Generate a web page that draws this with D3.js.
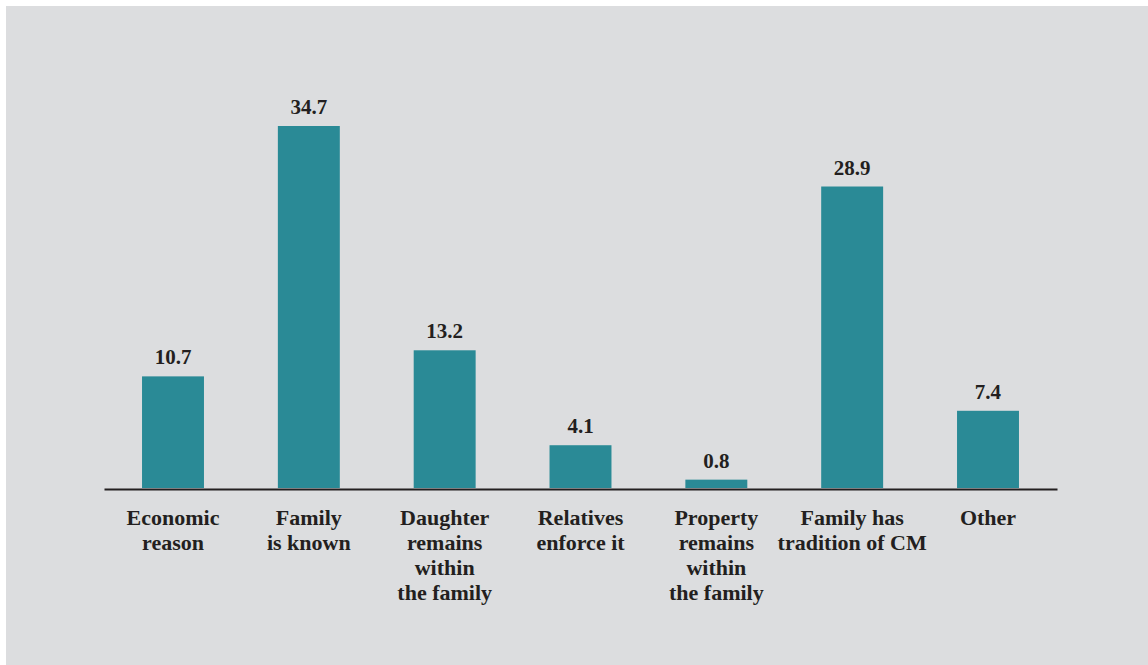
<!DOCTYPE html>
<html>
<head>
<meta charset="utf-8">
<script src="https://cdn.jsdelivr.net/npm/d3@7"></script>
<style>
  html, body { margin: 0; padding: 0; background: #ffffff; }
  svg { display: block; }
</style>
</head>
<body>
<svg id="chart" width="1148" height="665"></svg>
<script>
// Reasons given, in percent
const categories = [
  ["Economic", "reason"],
  ["Family", "is known"],
  ["Daughter", "remains", "within", "the family"],
  ["Relatives", "enforce it"],
  ["Property", "remains", "within", "the family"],
  ["Family has", "tradition of CM"],
  ["Other"]
];
const values = [10.7, 34.7, 13.2, 4.1, 0.8, 28.9, 7.4];
const valueLabels = ["10.7", "34.7", "13.2", "4.1", "0.8", "28.9", "7.4"];

const svg = d3.select("#chart");
const W = 1148, H = 665;
const font = "'Liberation Serif', 'Times New Roman', serif";
const ink = "#231f20";
const barColor = "#2a8a96";

// panel background
svg.append("rect")
  .attr("x", 6).attr("y", 6)
  .attr("width", W - 6).attr("height", H - 6)
  .attr("fill", "#dcdddf");

const left = 104, right = 1057, baseline = 488;

const x = d3.scaleBand()
  .domain(d3.range(categories.length))
  .range([left, right])
  .paddingInner(0.544)
  .paddingOuter(0.28);

const y = d3.scaleLinear()
  .domain([0, 34.7])
  .range([baseline, 126]);

// bars
svg.append("g")
  .selectAll("rect")
  .data(values)
  .join("rect")
  .attr("x", (d, i) => x(i))
  .attr("y", d => y(d))
  .attr("width", x.bandwidth())
  .attr("height", d => baseline - y(d))
  .attr("fill", barColor);

// value labels
svg.append("g")
  .selectAll("text")
  .data(values)
  .join("text")
  .attr("x", (d, i) => x(i) + x.bandwidth() / 2)
  .attr("y", d => y(d) - 12)
  .attr("text-anchor", "middle")
  .attr("font-family", font)
  .attr("font-weight", "bold")
  .attr("font-size", 21)
  .attr("fill", ink)
  .text((d, i) => valueLabels[i]);

// baseline axis
const axis = d3.axisBottom(x).tickSize(0).tickFormat("");
const axisG = svg.append("g")
  .attr("transform", `translate(0,${baseline + 1})`)
  .call(axis);
axisG.select(".domain")
  .attr("stroke", ink)
  .attr("stroke-width", 2);

// category labels, one tspan per line
const labels = svg.append("g")
  .selectAll("text")
  .data(categories)
  .join("text")
  .attr("text-anchor", "middle")
  .attr("font-family", font)
  .attr("font-weight", "bold")
  .attr("font-size", 22)
  .attr("fill", ink)
  .attr("transform", (d, i) => `translate(${x(i) + x.bandwidth() / 2},525)`);

labels.selectAll("tspan")
  .data(d => d)
  .join("tspan")
  .attr("x", 0)
  .attr("y", (d, j) => j * 25)
  .text(d => d);
</script>
</body>
</html>
